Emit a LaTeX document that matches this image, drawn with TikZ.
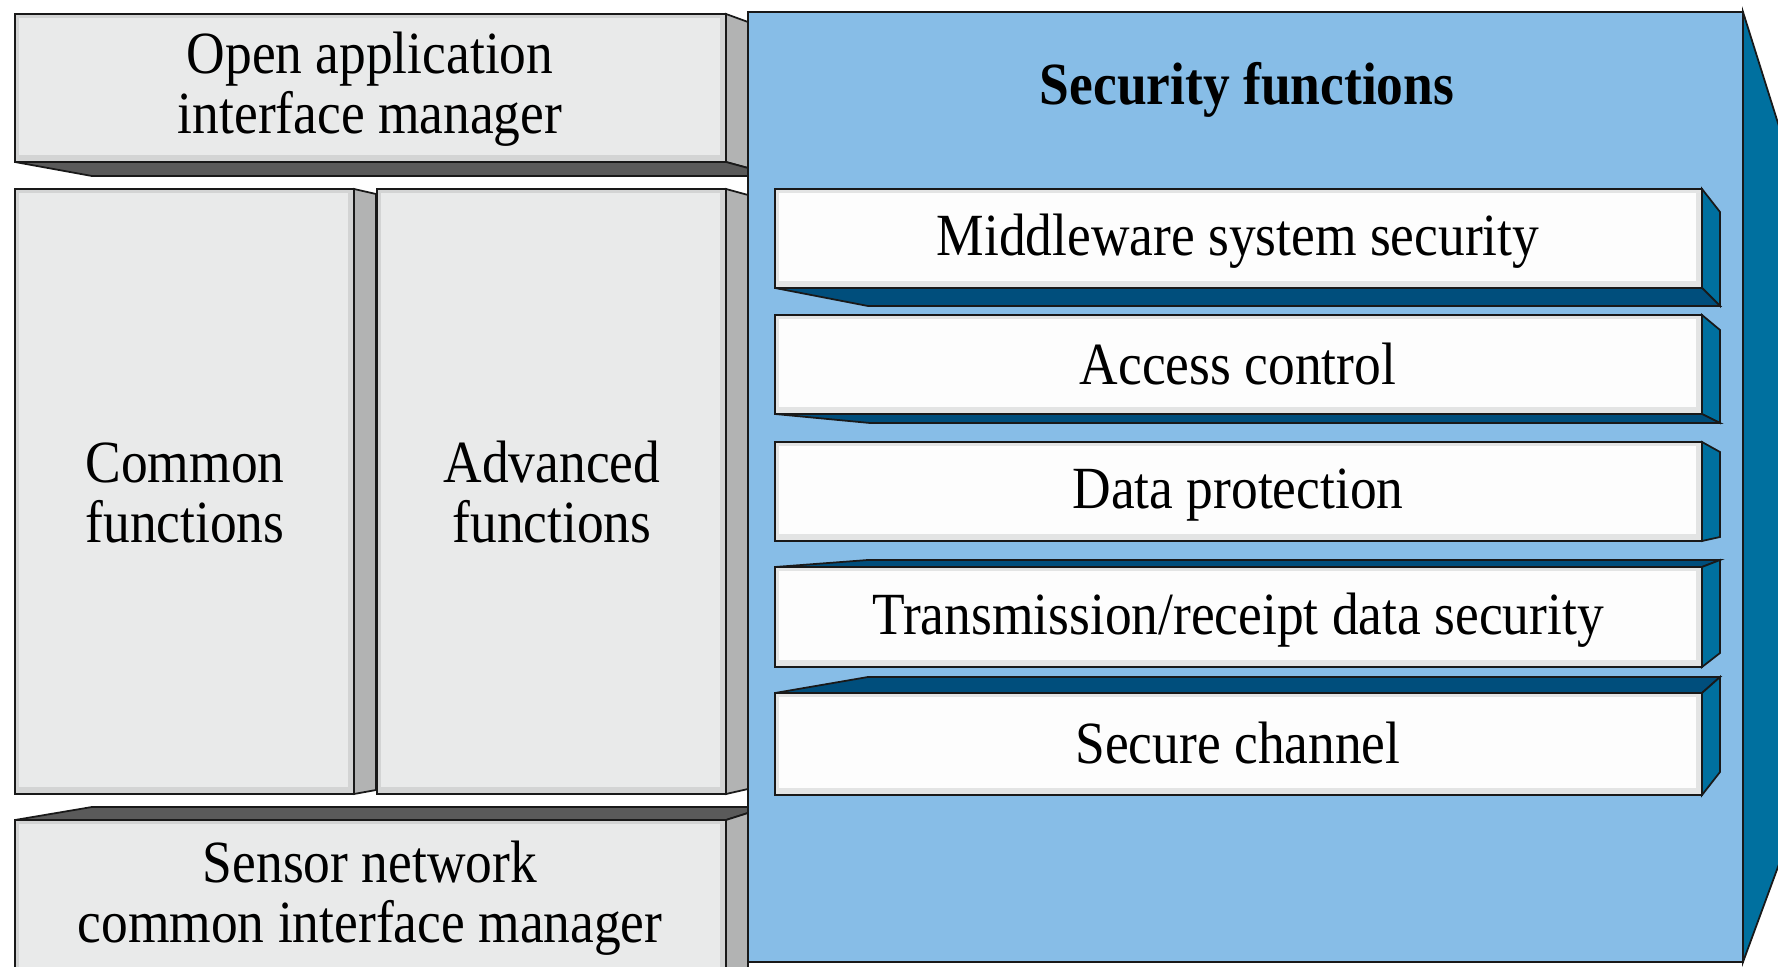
\documentclass[tikz,border=0pt]{standalone}
\usepackage{fontspec}
\setmainfont{Liberation Serif}
\usetikzlibrary{calc}

\definecolor{gface}{HTML}{E9EAEA}
\definecolor{gbev}{HTML}{D3D4D4}
\definecolor{gside}{HTML}{B2B3B3}
\definecolor{gdark}{HTML}{5A5A5A}
\definecolor{wface}{HTML}{FDFDFD}
\definecolor{wbev}{HTML}{E3E4E4}
\definecolor{panel}{HTML}{87BDE7}
\definecolor{pside}{HTML}{00709F}
\definecolor{pdeep}{HTML}{004E7C}

% two-line centred label, slightly stretched vertically
\newcommand\lbl[1]{\scalebox{1}[1.12]{\begin{tabular}{@{}c@{}}#1\end{tabular}}}

% front face of a block: bevel colour outside, face colour inside, outline
\newcommand\frontface[5]{%
  \fill[#5bev] (#1,#2) rectangle (#3,#4);
  \fill[#5face] ($(#1,#2)+(4,4)$) rectangle ($(#3,#4)+(-6,-7)$);
  \draw[ln] (#1,#2) rectangle (#3,#4);}

\tikzset{
  ln/.style={draw=black!90, line width=0.5pt, line join=miter},
  sidegray/.style={ln, fill=gside},
  capgray/.style={ln, fill=gdark},
  sideblue/.style={ln, fill=pside},
  capblue/.style={ln, fill=pdeep},
  txt/.style={inner sep=0pt, font=\fontsize{15.2}{15}\selectfont},
}

\begin{document}
\begin{tikzpicture}[x=0.01cm, y=-0.01cm]
\useasboundingbox (0,0) rectangle (1778,967);
\clip (0,0) rectangle (1778,967);
\fill[white] (0,0) rectangle (1778,967);

% ---------- security panel ----------
\filldraw[sideblue] (1743,12) -- (1800,193) -- (1800,807) -- (1743,962) -- cycle;
\filldraw[ln, fill=panel] (748,12) rectangle (1743,962);

% ---------- left column ----------
% open application interface manager
\filldraw[sidegray] (726,14) -- (748,22) -- (748,168) -- (726,162) -- cycle;
\filldraw[capgray] (15,162) -- (726,162) -- (748,168) -- (748,176) -- (92,176) -- cycle;
\frontface{15}{14}{726}{162}{g}

% common functions
\filldraw[sidegray] (354,189) -- (376,194) -- (376,790) -- (354,794) -- cycle;
\frontface{15}{189}{354}{794}{g}

% advanced functions
\filldraw[sidegray] (726,189) -- (748,195) -- (748,789) -- (726,794) -- cycle;
\frontface{377}{189}{726}{794}{g}

% sensor network common interface manager
\filldraw[capgray] (15,820) -- (92,807) -- (748,807) -- (748,813) -- (726,820) -- cycle;
\filldraw[sidegray] (726,820) -- (748,813) -- (748,980) -- (726,980) -- cycle;
\frontface{15}{820}{726}{980}{g}

% ---------- security function blocks ----------
% middleware system security
\filldraw[sideblue] (1702,189) -- (1720,212) -- (1720,306) -- (1702,288) -- cycle;
\filldraw[capblue] (775,288) -- (1702,288) -- (1720,306) -- (868,306) -- cycle;
\frontface{775}{189}{1702}{288}{w}

% access control
\filldraw[sideblue] (1702,315) -- (1720,330) -- (1720,423) -- (1702,414) -- cycle;
\filldraw[capblue] (775,414) -- (1702,414) -- (1720,423) -- (870,423) -- cycle;
\frontface{775}{315}{1702}{414}{w}

% data protection
\filldraw[sideblue] (1702,442) -- (1720,452) -- (1720,537) -- (1702,541) -- cycle;
\frontface{775}{442}{1702}{541}{w}

% transmission/receipt data security
\filldraw[capblue] (775,567) -- (868,560) -- (1720,560) -- (1702,567) -- cycle;
\filldraw[sideblue] (1702,567) -- (1720,560) -- (1720,653) -- (1702,667) -- cycle;
\frontface{775}{567}{1702}{667}{w}

% secure channel
\filldraw[capblue] (775,693) -- (868,677) -- (1720,677) -- (1702,693) -- cycle;
\filldraw[sideblue] (1702,693) -- (1720,677) -- (1720,772) -- (1702,795) -- cycle;
\frontface{775}{693}{1702}{795}{w}

% ---------- labels ----------
\node[txt] (oa) at (370,92) {\lbl{Open application\\interface manager}};
\node[txt] (cf) at (185,501) {\lbl{Common\\functions}};
\node[txt] (af) at (552,501) {\lbl{Advanced\\functions}};
\node[txt] (sn) at (370,901) {\lbl{Sensor network\\common interface manager}};
\node[txt] (sf) at (1247,92) {\lbl{\bfseries Security functions}};
\node[txt] (ms) at (1238,244) {\lbl{Middleware system security}};
\node[txt] (ac) at (1238,373) {\lbl{Access control}};
\node[txt] (dp) at (1238,497) {\lbl{Data protection}};
\node[txt] (tr) at (1238,623) {\lbl{Transmission/receipt data security}};
\node[txt] (sc) at (1238,752) {\lbl{Secure channel}};
\end{tikzpicture}
\end{document}
